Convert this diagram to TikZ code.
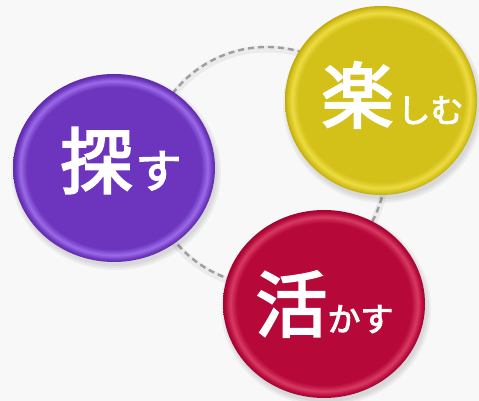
\documentclass[tikz,border=0pt]{standalone}
\usepackage{fontspec}
\newfontfamily\cjk{Noto Sans CJK JP}[FakeBold=3]
\usetikzlibrary{shapes.geometric}
\definecolor{bgcol}{HTML}{F8F8F8}
\definecolor{ringcol}{HTML}{9E9E9E}
\definecolor{pcol}{HTML}{6D35BE}
\definecolor{plight}{HTML}{9A6BE8}
\definecolor{pdark}{HTML}{5E2CA6}
\definecolor{ycol}{HTML}{D3C018}
\definecolor{ylight}{HTML}{EDDC44}
\definecolor{ydark}{HTML}{BDAA14}
\definecolor{rcol}{HTML}{B6093A}
\definecolor{rlight}{HTML}{D83A62}
\definecolor{rdark}{HTML}{9C0632}
\pgfdeclareradialshading{pshade}{\pgfpoint{0bp}{0bp}}{color(0bp)=(pcol); color(21.6bp)=(pcol); color(23.2bp)=(plight); color(24.4bp)=(pcol); color(25bp)=(pdark); color(50bp)=(pdark)}
\pgfdeclareradialshading{yshade}{\pgfpoint{0bp}{0bp}}{color(0bp)=(ycol); color(21.6bp)=(ycol); color(23.2bp)=(ylight); color(24.4bp)=(ycol); color(25bp)=(ydark); color(50bp)=(ydark)}
\pgfdeclareradialshading{rshade}{\pgfpoint{0bp}{0bp}}{color(0bp)=(rcol); color(21.6bp)=(rcol); color(23.2bp)=(rlight); color(24.4bp)=(rcol); color(25bp)=(rdark); color(50bp)=(rdark)}
\tikzset{
  disc/.style={ellipse, inner sep=0pt, minimum width=202pt, minimum height=188pt},
  softshadow/.style={fill=black, opacity=0.045},
  lbl/.style={inner sep=0pt, text=white, font=\cjk}
}
\begin{document}
\begin{tikzpicture}[x=1pt,y=1pt]
\fill[bgcol] (0,0) rectangle (479,401);
\useasboundingbox (0,0) rectangle (479,401);
% dashed ring
\draw[black, opacity=0.05, line width=7pt] (267,233) circle (119);
\node[circle, draw=ringcol, line width=2.4pt, dash pattern=on 6pt off 4pt, minimum size=238pt, inner sep=0pt] (ring) at (267,235) {};
% shadows
\foreach \s in {0,2,4}{
  \fill[softshadow] (116,229) ellipse ({101+\s} and {94+\s});
  \fill[softshadow] (383,296) ellipse ({96+\s} and {94+\s});
  \fill[softshadow] (326,93) ellipse ({101+\s} and {94+\s});
}
% discs
\node[disc, shading=pshade] (sagasu) at (114,233) {};
\node[disc, shading=yshade, minimum width=192pt, minimum height=189pt] (tanoshimu) at (381,300.5) {};
\node[disc, shading=rshade] (ikasu) at (324,97) {};
% labels
\node[lbl] (t1) at (121,240.5) {{\fontsize{72pt}{72pt}\selectfont 探}\hspace{3pt}{\fontsize{46pt}{46pt}\selectfont す}};
\node[lbl] (t2) at (392.5,306) {{\fontsize{72pt}{72pt}\selectfont 楽}\hspace{4pt}{\fontsize{33pt}{33pt}\selectfont しむ}};
\node[lbl] (t3) at (324.5,97) {{\fontsize{72pt}{72pt}\selectfont 活}\hspace{0pt}{\fontsize{33pt}{33pt}\selectfont かす}};
\end{tikzpicture}
\end{document}
